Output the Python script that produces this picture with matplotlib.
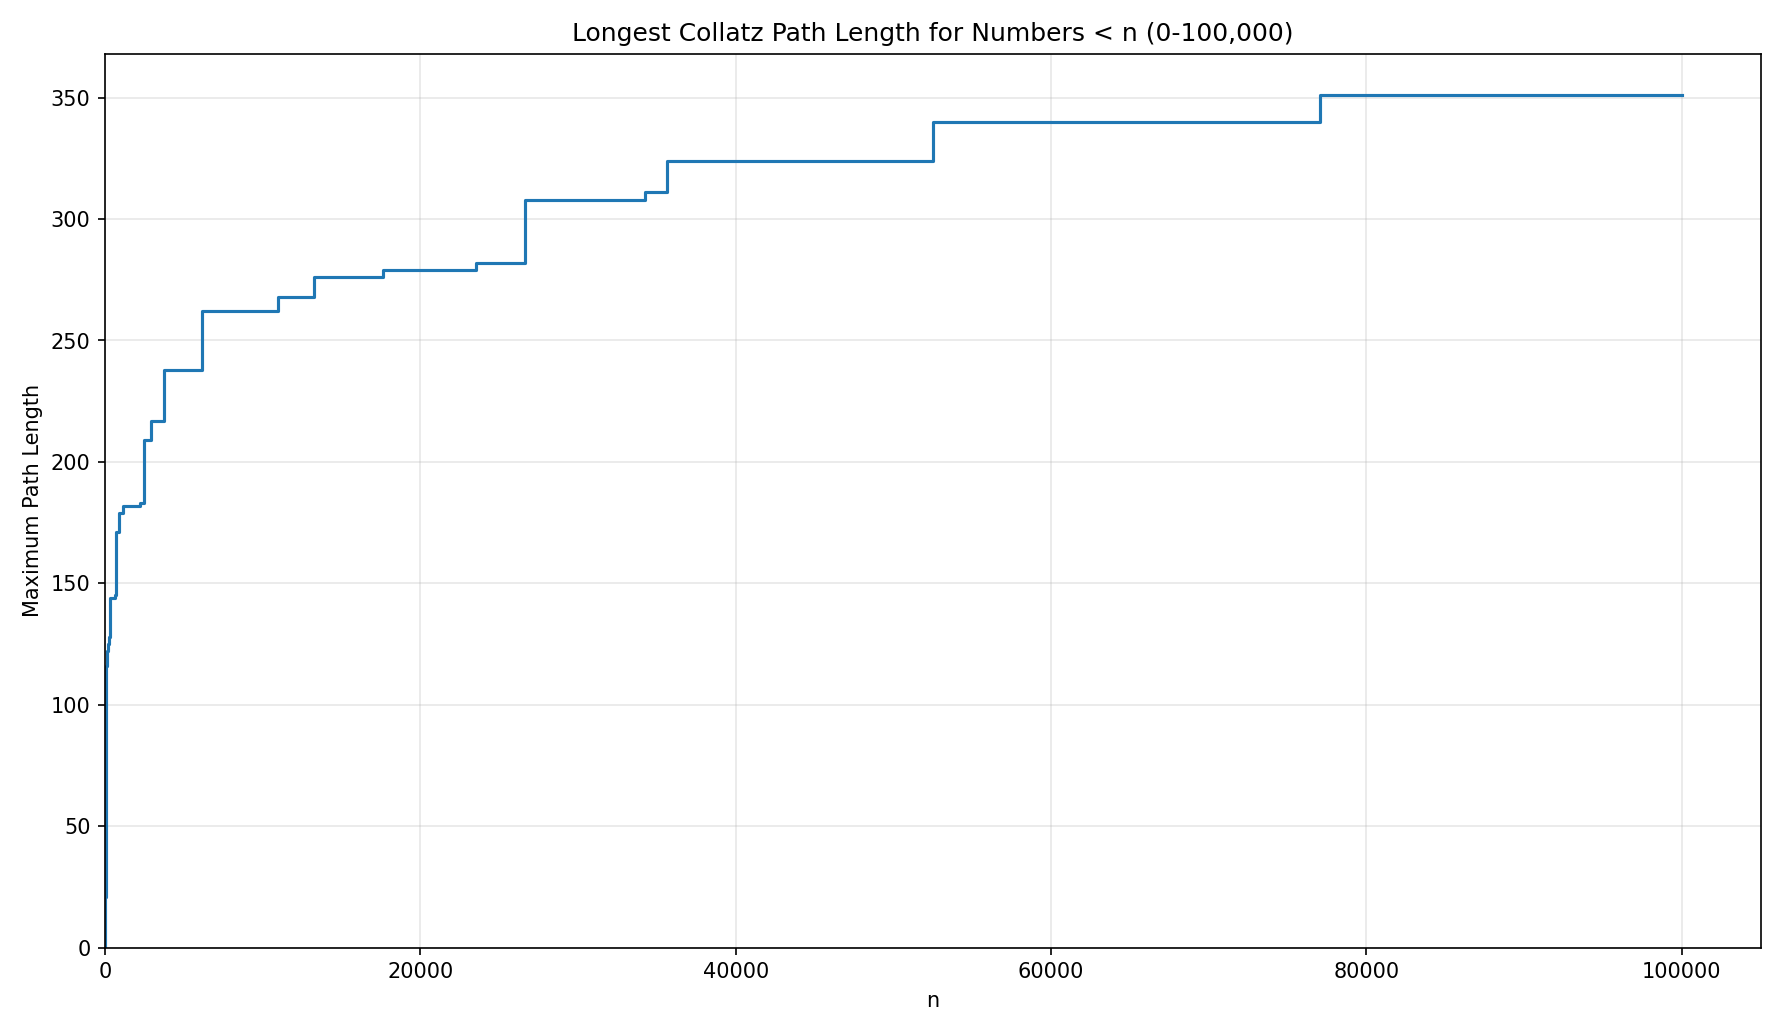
import matplotlib
matplotlib.use("Agg")
import matplotlib.pyplot as plt

# record holders: n and longest path length (steps + 1) for numbers < n
record_n = [1, 2, 3, 6, 7, 9, 18, 25, 27, 54, 73, 97, 129, 171, 231, 313, 327,
            649, 703, 871, 1161, 2223, 2463, 2919, 3711, 6171, 10971, 13255,
            17647, 23529, 26623, 34239, 35655, 52527, 77031, 100000]
record_len = [1, 2, 8, 9, 17, 20, 21, 24, 112, 113, 116, 119, 122, 125, 128, 131, 144,
              145, 171, 179, 182, 183, 209, 217, 238, 262, 268, 276,
              279, 282, 308, 311, 324, 340, 351, 351]

fig, ax = plt.subplots(figsize=(11.887, 6.887), dpi=150)
ax.plot([0] + record_n, [0] + record_len, drawstyle="steps-post", color="#1f77b4")
ax.set_xlim(0, 105000)
ax.set_ylim(0, 368)
ax.set_title("Longest Collatz Path Length for Numbers < n (0-100,000)")
ax.set_xlabel("n")
ax.set_ylabel("Maximum Path Length")
ax.grid(True, alpha=0.3)
fig.tight_layout()
fig.savefig("out.png")
